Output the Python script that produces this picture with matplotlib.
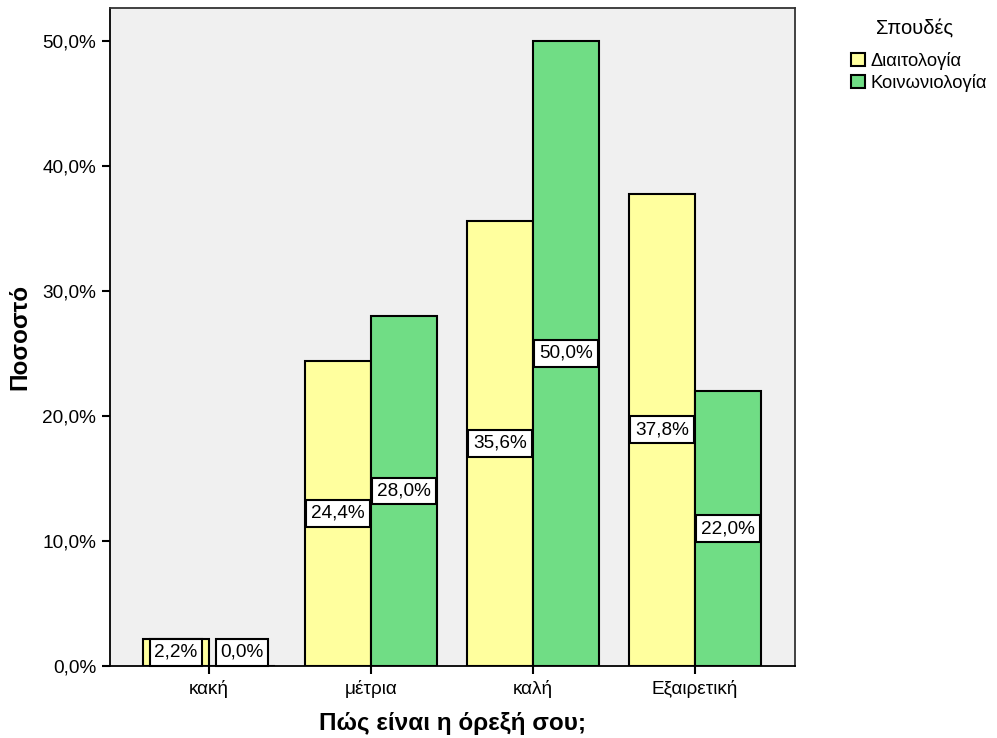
import matplotlib
matplotlib.use("Agg")
import matplotlib.pyplot as plt
import numpy as np
from matplotlib.patches import Patch

plt.rcParams['font.family'] = ['Liberation Sans', 'DejaVu Sans']

categories = ["κακή", "μέτρια", "καλή", "Εξαιρετική"]
series_names = ["Διαιτολογία", "Κοινωνιολογία"]
diaitologia = [2.2, 24.4, 35.6, 37.8]
koinoniologia = [0.0, 28.0, 50.0, 22.0]
yticks = [0, 10, 20, 30, 40, 50]

colors = ["#FFFF9E", "#70DD85"]
fs = 13.7

fig = plt.figure(figsize=(9.97, 7.38), dpi=100)
ax = fig.add_axes([110/997, 1-666/738, (795-110)/997, (666-8)/738])
ax.set_facecolor("#F0F0F0")

x = np.arange(len(categories))
w = 0.407
for i, (vals, col) in enumerate(zip([diaitologia, koinoniologia], colors)):
    offs = (i - 0.5) * w
    ax.bar(x + offs, vals, width=w, color=col, edgecolor="black", linewidth=1.5, zorder=2)
    for xi, v in zip(x, vals):
        ypos = max(v / 2, 1.1)
        ax.text(xi + offs, ypos, f"{v:.1f}%".replace(".", ","), ha="center", va="center",
                fontsize=fs, zorder=4,
                bbox=dict(boxstyle="square,pad=0.25", facecolor="white", edgecolor="black", linewidth=1.5))

ax.set_xlim(-0.611, 3.617)
ax.set_ylim(0, 52.64)
ax.set_xticks(x)
ax.set_xticklabels(categories, fontsize=fs)
ax.set_yticks(yticks)
ax.set_yticklabels([f"{t:.1f}%".replace(".", ",") for t in yticks], fontsize=fs)
ax.tick_params(axis="both", direction="out", length=6, width=1.5, colors="black", pad=4)
for s in ax.spines.values():
    s.set_linewidth(1.3)
    s.set_color("black")
ax.spines["top"].set_color("#333333")
ax.spines["right"].set_color("#333333")

ax.set_xlabel("Πώς είναι η όρεξή σου;", fontsize=17.5, fontweight="bold", labelpad=10)
ax.set_ylabel("Ποσοστό", fontsize=17.5, fontweight="bold", labelpad=8)

fig.text(915/997, 1-28/738, "Σπουδές", ha="center", va="center", fontsize=14.5)
handles = [Patch(facecolor=c, edgecolor="black", linewidth=1.5) for c in colors]
leg = fig.legend(handles, series_names, loc="upper left",
                 bbox_to_anchor=(851/997, 1-52/738), frameon=False, fontsize=13.2,
                 handlelength=0.75, handleheight=0.75,
                 handletextpad=0.33, labelspacing=0.2, borderpad=0, borderaxespad=0)

fig.savefig("out.png", dpi=100, facecolor="white")
